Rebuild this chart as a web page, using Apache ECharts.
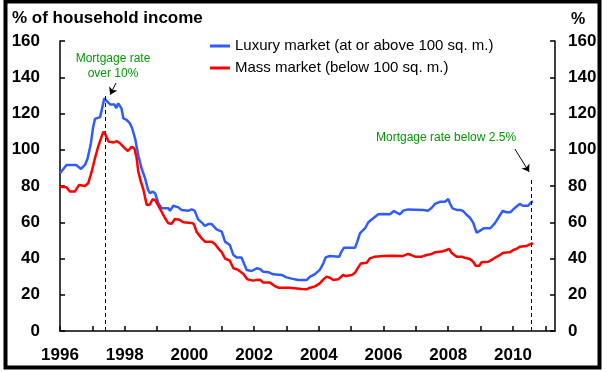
<!DOCTYPE html>
<html>
<head>
<meta charset="utf-8">
<script src="https://cdn.jsdelivr.net/npm/echarts@6/dist/echarts.min.js"></script>
<style>
html,body{margin:0;padding:0;background:#fff;}
#chart{width:607px;height:372px;}
</style>
</head>
<body>
<div id="chart"></div>
<script>
// ---- Data (decimal year, % of household income) ----
const luxuryYears = [1996.00,1996.20,1996.50,1996.65,1996.77,1996.85,1996.95,1997.02,1997.08,1997.24,1997.30,1997.37,1997.44,1997.55,1997.68,1997.74,1997.80,1997.90,1997.96,1998.06,1998.16,1998.23,1998.32,1998.42,1998.52,1998.63,1998.72,1998.78,1998.86,1998.94,1999.04,1999.14,1999.35,1999.40,1999.50,1999.66,1999.76,1999.97,2000.07,2000.16,2000.27,2000.41,2000.48,2000.58,2000.69,2000.84,2001.00,2001.10,2001.25,2001.36,2001.46,2001.61,2001.77,2001.92,2002.08,2002.18,2002.28,2002.46,2002.59,2002.85,2003.00,2003.16,2003.36,2003.62,2003.73,2003.88,2004.03,2004.14,2004.21,2004.34,2004.63,2004.70,2004.78,2005.12,2005.19,2005.27,2005.43,2005.53,2005.68,2005.84,2006.00,2006.20,2006.32,2006.42,2006.51,2006.61,2006.76,2007.23,2007.38,2007.49,2007.59,2007.74,2007.90,2008.00,2008.05,2008.13,2008.26,2008.36,2008.46,2008.55,2008.67,2008.77,2008.88,2008.96,2009.10,2009.30,2009.44,2009.55,2009.68,2009.81,2009.92,2010.01,2010.11,2010.21,2010.31,2010.47,2010.57,2010.62];
const luxuryValues = [87.0,91.6,91.6,89.4,91.6,95.0,103.0,112.0,117.0,118.0,117.0,128.4,127.0,125.0,125.0,123.0,125.6,122.8,117.3,116.5,114.6,111.8,106.3,97.0,89.8,84.2,78.0,76.0,76.9,76.0,70.5,67.7,67.7,66.3,69.1,68.2,66.8,66.4,67.1,66.4,61.6,59.4,57.9,59.0,59.0,56.1,54.8,49.3,47.4,41.9,40.6,40.6,33.7,33.1,34.6,34.2,32.7,32.4,31.3,30.9,29.6,28.9,28.1,28.1,30.0,31.4,33.7,37.3,40.6,41.4,41.0,43.8,46.0,46.0,49.3,53.9,56.7,60.0,62.2,64.4,64.6,64.4,66.2,65.2,64.4,66.4,67.1,66.8,66.4,68.0,70.1,71.3,71.3,72.8,70.5,67.7,66.8,66.8,66.2,64.4,62.5,59.8,54.2,55.1,56.7,56.7,59.4,62.5,66.2,65.5,65.5,67.1,68.7,70.1,69.1,69.1,71.2,71.3];

const massYears = [1996.00,1996.20,1996.31,1996.46,1996.59,1996.77,1996.87,1996.98,1997.08,1997.18,1997.24,1997.34,1997.40,1997.50,1997.66,1997.75,1997.85,1998.01,1998.10,1998.22,1998.30,1998.37,1998.42,1998.50,1998.58,1998.68,1998.78,1998.86,1998.94,1999.09,1999.24,1999.35,1999.45,1999.55,1999.69,1999.81,2000.07,2000.14,2000.22,2000.38,2000.48,2000.69,2000.79,2000.89,2001.00,2001.10,2001.25,2001.36,2001.51,2001.67,2001.79,2001.97,2002.13,2002.20,2002.28,2002.49,2002.64,2002.75,2003.10,2003.16,2003.47,2003.62,2003.73,2003.88,2004.03,2004.14,2004.24,2004.34,2004.45,2004.60,2004.75,2004.84,2005.02,2005.12,2005.22,2005.30,2005.48,2005.58,2005.73,2006.00,2006.20,2006.61,2006.76,2006.86,2006.97,2007.18,2007.33,2007.49,2007.59,2007.80,2007.95,2008.03,2008.10,2008.26,2008.41,2008.51,2008.67,2008.77,2008.85,2008.96,2009.03,2009.24,2009.34,2009.44,2009.55,2009.70,2009.90,2010.01,2010.11,2010.21,2010.42,2010.52,2010.62];
const massValues = [79.6,79.3,76.9,76.9,80.6,80.0,81.5,87.9,95.3,101.7,102.6,110.0,108.5,104.5,104.0,104.8,103.6,100.8,99.3,101.7,100.7,95.3,87.9,82.4,77.8,69.5,69.8,72.7,72.3,67.5,62.5,59.4,59.2,61.8,61.4,60.0,59.6,59.0,54.8,51.1,49.3,49.3,48.0,45.6,43.5,40.0,38.8,34.6,33.7,31.4,28.5,27.8,28.3,28.1,26.7,26.7,24.8,23.9,23.9,23.4,23.2,23.0,23.9,24.6,26.3,28.5,30.0,29.4,28.1,28.5,30.9,30.3,30.9,32.2,35.1,37.3,37.7,40.1,41.0,41.4,41.5,41.4,42.5,41.9,41.0,41.0,41.9,42.5,43.4,43.8,44.7,45.3,43.2,41.0,41.0,40.4,39.7,38.2,36.0,36.0,37.9,38.2,39.2,40.4,41.4,43.2,43.4,44.7,45.3,46.5,46.9,47.8,48.4];

const seriesNames = ['Luxury market (at or above 100 sq. m.)', 'Mass market (below 100 sq. m.)'];
const yTicks = [0, 20, 40, 60, 80, 100, 120, 140, 160];
const xLabelYears = [1996, 1998, 2000, 2002, 2004, 2006, 2008, 2010];

// annotation anchors (data coordinates)
const highRateYear = 1997.40, highRateTop = 130.2;
const lowRateYear = 2010.56, lowRateTop = 84.4;
const arrow1 = [[1997.73, 136.8], [1997.55, 130.4]];
const arrow2 = [[2010.06, 100.4], [2010.50, 87.8]];

const zip = (xs, ys) => xs.map((x, i) => [x, ys[i]]);
const FONT = 'Arial, "Liberation Sans", sans-serif';
const GREEN = '#009A00';

const chart = echarts.init(document.getElementById('chart'), null, {renderer: 'canvas'});

const yAxisCommon = {
  type: 'value', min: yTicks[0], max: yTicks[yTicks.length - 1], interval: 20,
  splitLine: {show: false},
  axisLine: {show: true, lineStyle: {color: '#000', width: 1.5}},
  axisTick: {show: true, inside: true, length: 5, lineStyle: {color: '#000', width: 1.5}},
};

chart.setOption({
  animation: false,
  backgroundColor: '#fff',
  title: [
    {text: '% of household income', left: 12, top: 10, padding: 0,
     textStyle: {fontFamily: FONT, fontSize: 17, fontWeight: 'bold', color: '#000'}},
    {text: '%', left: 571, top: 12, padding: 0,
     textStyle: {fontFamily: FONT, fontSize: 16, fontWeight: 'bold', color: '#000'}}
  ],
  legend: {
    orient: 'vertical', left: 210, top: 35, padding: 0,
    itemWidth: 20, itemHeight: 3, itemGap: 0, icon: 'rect',
    textStyle: {fontFamily: FONT, fontSize: 15, color: '#000', lineHeight: 22},
    data: seriesNames
  },
  grid: {left: 60, right: 52, top: 41, bottom: 41, containLabel: false},
  xAxis: {
    type: 'value', min: 1996, max: 2011.3, interval: 1,
    splitLine: {show: false},
    axisLine: {show: true, onZero: false, lineStyle: {color: '#000', width: 1.5}},
    axisTick: {show: true, inside: true, length: 5, lineStyle: {color: '#000', width: 1.5}},
    axisLabel: {
      margin: 16, fontFamily: FONT, fontSize: 17, fontWeight: 'bold', color: '#000',
      showMaxLabel: false,
      formatter: v => xLabelYears.includes(v) ? String(v) : ''
    }
  },
  yAxis: [
    Object.assign({}, yAxisCommon, {position: 'left',
      axisLabel: {margin: 20, fontFamily: FONT, fontSize: 17, fontWeight: 'bold', color: '#000'}}),
    Object.assign({}, yAxisCommon, {position: 'right',
      axisLabel: {margin: 13, fontFamily: FONT, fontSize: 17, fontWeight: 'bold', color: '#000'}})
  ],
  series: [
    {
      name: seriesNames[0], type: 'line', data: zip(luxuryYears, luxuryValues),
      showSymbol: false, symbol: 'none', color: '#2E5CFF',
      lineStyle: {width: 2.5, color: '#2E5CFF'}, z: 3,
      markLine: {
        silent: true, animation: false, symbol: 'none',
        lineStyle: {type: [4, 3], color: '#000', width: 1},
        label: {show: false},
        data: [
          [{coord: [highRateYear, 0]}, {coord: [highRateYear, highRateTop]}],
          [{coord: [lowRateYear, 0]}, {coord: [lowRateYear, lowRateTop]}]
        ]
      }
    },
    {
      name: seriesNames[1], type: 'line', data: zip(massYears, massValues),
      showSymbol: false, symbol: 'none', color: '#FF0000',
      lineStyle: {width: 2.5, color: '#FF0000'}, z: 3,
      markLine: {
        silent: true, animation: false, symbol: ['none', 'arrow'], symbolSize: 7,
        lineStyle: {type: 'solid', color: '#000', width: 1},
        label: {show: false},
        data: [
          [{coord: arrow1[0]}, {coord: arrow1[1]}],
          [{coord: arrow2[0]}, {coord: arrow2[1]}]
        ]
      }
    }
  ],
  graphic: [
    {type: 'rect', silent: true, z: 100,
     shape: {x: 5.5, y: 1.5, width: 594, height: 366},
     style: {fill: 'none', stroke: '#000', lineWidth: 4}},
    {type: 'text', silent: true, z: 50,
     style: {x: 113, y: 51, text: 'Mortgage rate\nover 10%', textAlign: 'center', textVerticalAlign: 'top',
             font: '12px ' + FONT, lineHeight: 15, fill: GREEN}},
    {type: 'text', silent: true, z: 50,
     style: {x: 376, y: 138, text: 'Mortgage rate below 2.5%', textAlign: 'left', textVerticalAlign: 'middle',
             font: '12px ' + FONT, fill: GREEN}}
  ]
});
</script>
</body>
</html>
